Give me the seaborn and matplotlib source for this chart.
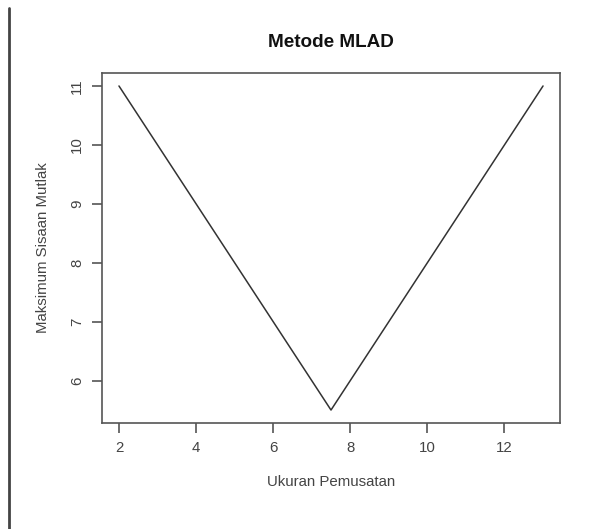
import matplotlib
matplotlib.use("Agg")
import matplotlib.pyplot as plt
import seaborn as sns
import pandas as pd
from matplotlib.lines import Line2D

x_vals = [2, 7.5, 13]
y_vals = [11, 5.5, 11]
x_ticks = [2, 4, 6, 8, 10, 12]
y_ticks = [6, 7, 8, 9, 10, 11]

sns.set_theme(style="ticks")
plt.rcParams['font.family'] = ['Liberation Sans', 'DejaVu Sans']

fig = plt.figure(figsize=(6.08, 5.29), dpi=100)
ax = fig.add_axes([102/608, 1 - 423/529, 458/608, 350/529])

df = pd.DataFrame({"x": x_vals, "y": y_vals})
sns.lineplot(data=df, x="x", y="y", ax=ax, color="#333333", linewidth=1.1, sort=False)

ax.set_xlim(1.56, 13.44)
ax.set_ylim(5.28, 11.22)
ax.set_xticks(x_ticks)
ax.set_yticks(y_ticks)
ax.set_yticklabels([str(v) for v in y_ticks], rotation=90, va="center")
for s in ax.spines.values():
    s.set_visible(True)
    s.set_color("#555555")
    s.set_linewidth(1.2)
ax.tick_params(axis="both", direction="out", length=7, width=1.2, color="#555555",
               labelsize=10.8, labelcolor="#444444", pad=6)
ax.set_xlabel("Ukuran Pemusatan", fontsize=10.8, color="#444444", labelpad=14)
ax.set_ylabel("Maksimum Sisaan Mutlak", fontsize=10.8, color="#444444", labelpad=14)
ax.set_title("Metode MLAD", fontsize=13.6, fontweight="bold", color="#111111", pad=19)

fig.add_artist(Line2D([9/608, 9/608], [0, 1 - 8/529], transform=fig.transFigure,
                      color="#444444", linewidth=2))

fig.savefig("out.png", dpi=100, facecolor="white")
